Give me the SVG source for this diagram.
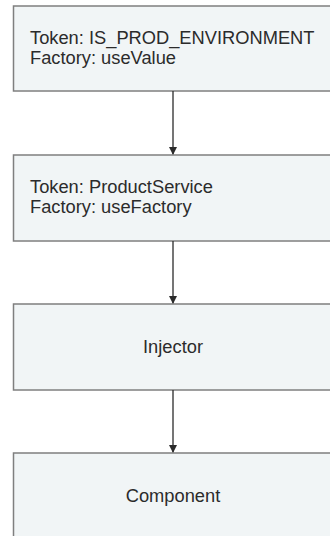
<svg xmlns="http://www.w3.org/2000/svg" width="330" height="536" viewBox="0 0 330 536">
  <style>
    .box { fill: #f1f5f6; stroke: #7f7f7f; stroke-width: 1.5; }
    .lbl { font-family: "Liberation Sans", Arial, sans-serif; font-size: 18.3px; fill: #2b2b2b; }
    .mid { text-anchor: middle; }
    .edge { stroke: #2b2b2b; stroke-width: 1.3; fill: none; marker-end: url(#arrow); }
  </style>
  <defs>
    <marker id="arrow" markerWidth="8" markerHeight="10" refX="7" refY="4" orient="auto" markerUnits="userSpaceOnUse" viewBox="0 0 8 10">
      <path d="M0,0 L8,4 L0,8 Z" fill="#2b2b2b"/>
    </marker>
  </defs>
  <rect width="330" height="536" fill="#ffffff"/>

  <g id="token-env">
    <rect class="box" x="13.5" y="6" width="320" height="85"/>
    <text class="lbl" x="30" y="44">Token: IS_PROD_ENVIRONMENT</text>
    <text class="lbl" x="30" y="64">Factory: useValue</text>
  </g>

  <g id="token-product">
    <rect class="box" x="13.5" y="155" width="320" height="86"/>
    <text class="lbl" x="30" y="193">Token: ProductService</text>
    <text class="lbl" x="30" y="213">Factory: useFactory</text>
  </g>

  <g id="injector">
    <rect class="box" x="13.5" y="304" width="320" height="86"/>
    <text class="lbl mid" x="173" y="353">Injector</text>
  </g>

  <g id="component">
    <rect class="box" x="13.5" y="453" width="320" height="100"/>
    <text class="lbl mid" x="173" y="502">Component</text>
  </g>

  <g id="connectors">
    <line class="edge" x1="173" y1="91" x2="173" y2="154"/>
    <line class="edge" x1="173" y1="241" x2="173" y2="303"/>
    <line class="edge" x1="173" y1="390" x2="173" y2="452"/>
  </g>
</svg>
